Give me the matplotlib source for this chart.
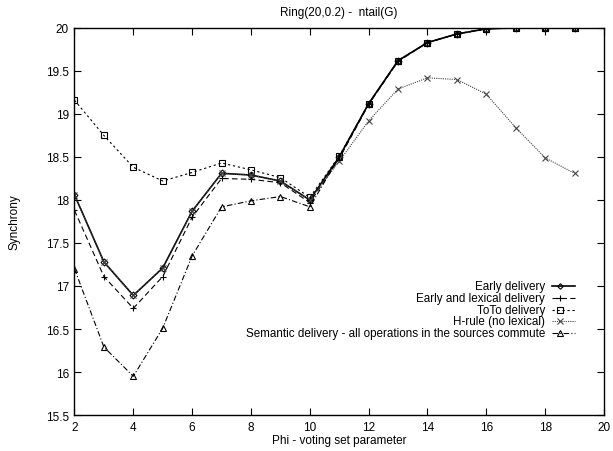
import matplotlib
matplotlib.use("Agg")
import matplotlib.pyplot as plt
from matplotlib.lines import Line2D

plt.rcParams['font.family'] = ['Liberation Sans', 'DejaVu Sans']

phi = [2, 3, 4, 5, 6, 7, 8, 9, 10, 11, 12, 13, 14, 15, 16, 17, 18, 19]
early = [18.06, 17.28, 16.89, 17.21, 17.87, 18.31, 18.29, 18.22, 18.00, 18.50,
         19.12, 19.62, 19.83, 19.93, 19.99, 20.0, 20.0, 20.0]
early_lex = [17.88, 17.11, 16.74, 17.11, 17.80, 18.25, 18.24, 18.20, 17.97, 18.48,
             19.11, 19.61, 19.83, 19.93, 19.99, 20.0, 20.0, 20.0]
toto = [19.16, 18.75, 18.38, 18.22, 18.32, 18.43, 18.35, 18.26, 18.03, 18.51,
        19.12, 19.62, 19.83, 19.93, 19.99, 20.0, 20.0, 20.0]
hrule = [18.06, 17.28, 16.89, 17.21, 17.87, 18.31, 18.29, 18.22, 18.00, 18.45,
         18.92, 19.29, 19.42, 19.40, 19.23, 18.84, 18.49, 18.31]
semantic = [17.20, 16.29, 15.95, 16.51, 17.35, 17.92, 17.99, 18.04, 17.92, 18.50,
            19.12, 19.62, 19.83, 19.93, 19.99, 20.0, 20.0, 20.0]

labels = ["Early delivery", "Early and lexical delivery", "ToTo delivery",
          "H-rule (no lexical)",
          "Semantic delivery - all operations in the sources commute"]
xticks = [2, 4, 6, 8, 10, 12, 14, 16, 18, 20]
yticks = [15.5, 16, 16.5, 17, 17.5, 18, 18.5, 19, 19.5, 20]
ytick_labels = ["15.5", "16", "16.5", "17", "17.5", "18", "18.5", "19", "19.5", "20"]

fig = plt.figure(figsize=(6.13, 4.52), dpi=100)
ax = fig.add_axes([0.1215, 0.0796, 0.9853 - 0.1215, 0.936 - 0.0796])

styles = [
    dict(ls='-', lw=1.2, marker='D', ms=3.5, mfc='none', mew=0.8),
    dict(ls=(0, (5, 3)), lw=0.8, marker='+', ms=5, mew=0.8),
    dict(ls=(0, (2, 2.5)), lw=0.8, marker='s', ms=5, mfc='none', mew=0.8),
    dict(ls=(0, (1, 1)), lw=0.8, marker='x', ms=5, mew=0.8, color='#444444'),
    dict(ls=(0, (5, 2, 1, 2)), lw=0.8, marker='^', ms=5, mfc='none', mew=0.8),
]
series = [early, early_lex, toto, hrule, semantic]

for ys, st in zip(series, styles):
    kw = dict(st)
    kw.setdefault('color', 'black')
    ax.plot(phi, ys, mec=kw['color'], **kw)

ax.set_xlim(2, 20)
ax.set_ylim(15.5, 20)
ax.set_xticks(xticks)
ax.set_yticks(yticks)
ax.set_yticklabels(ytick_labels)
ax.tick_params(direction='in', length=5, width=0.8, top=True, right=True,
               labelsize=8.5, pad=4)
for sp in ax.spines.values():
    sp.set_linewidth(1.0)

ax.set_title("Ring(20,0.2) -  ntail(G)", fontsize=8.5, pad=9)
ax.set_xlabel("Phi - voting set parameter", fontsize=8.5, labelpad=1)
ax.set_ylabel("Synchrony", fontsize=8.5, labelpad=18)

# gnuplot-style legend: right-aligned text, sample line to the right
tx = (545 - 74.5) / (604 - 74.5)
lx0 = (552 - 74.5) / (604 - 74.5)
lx1 = (575 - 74.5) / (604 - 74.5)
row_px = [287, 299, 311, 322.5, 334]
for lab, st, py in zip(labels, styles, row_px):
    yy = (416 - py) / (416 - 29)
    ax.text(tx, yy, lab, transform=ax.transAxes, ha='right', va='center',
            fontsize=8.4)
    kw = dict(st)
    kw.setdefault('color', 'black')
    ln = Line2D([lx0, lx1], [yy, yy], transform=ax.transAxes,
                ls=kw['ls'], lw=kw['lw'], color=kw['color'])
    ax.add_line(ln)
    mk = Line2D([(lx0 + lx1) / 2 - 0.006], [yy], transform=ax.transAxes, ls='none',
                marker=kw['marker'], ms=kw['ms'] * 0.8, mew=kw['mew'],
                mfc=kw.get('mfc', kw['color']), mec=kw['color'])
    ax.add_line(mk)

fig.savefig("out.png", dpi=100)
